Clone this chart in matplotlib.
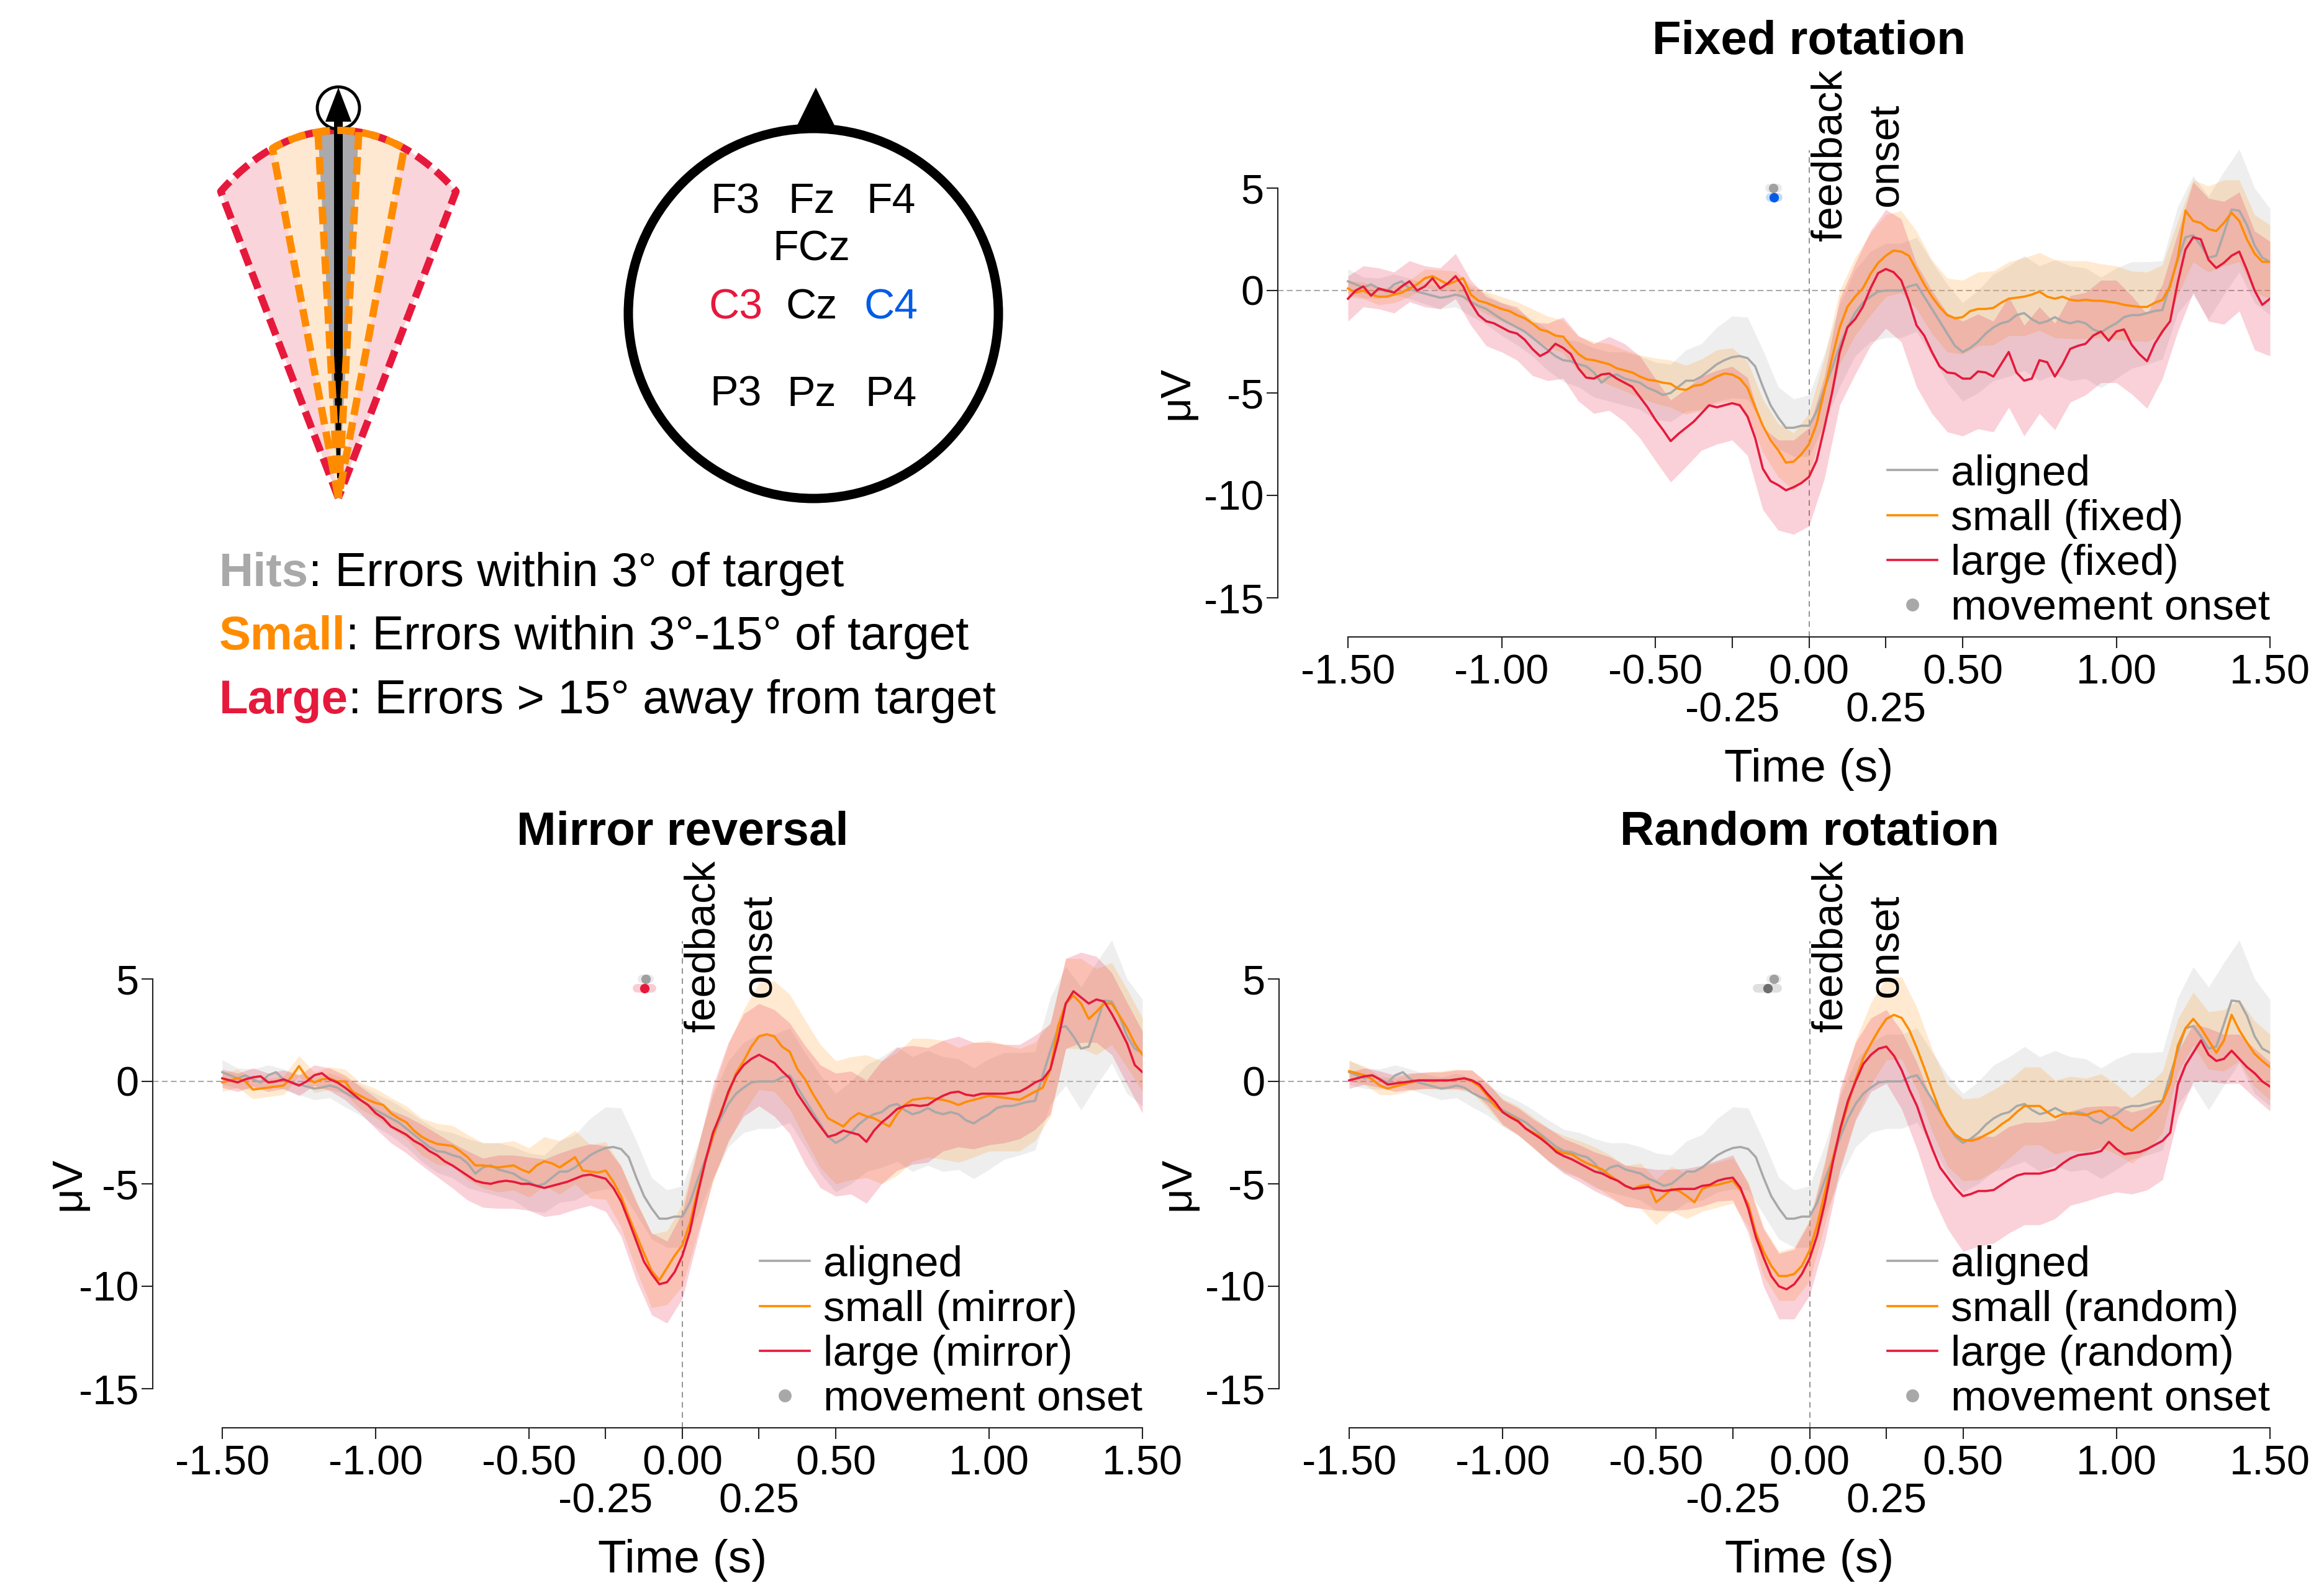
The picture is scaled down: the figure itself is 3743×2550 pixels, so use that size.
import numpy as np
import matplotlib
matplotlib.use("Agg")
import matplotlib.pyplot as plt
from matplotlib.lines import Line2D
from matplotlib.patches import Polygon, Circle

plt.rcParams['font.family'] = ['Liberation Sans', 'DejaVu Sans']

W, H, DPI = 3743, 2550, 100
fig = plt.figure(figsize=(W / DPI, H / DPI), dpi=DPI)

# ---------------------------------------------------------------- data
time = np.linspace(-1.5, 1.5, 121)      # 25 ms steps
time_ci = time[::2]                      # 50 ms steps for confidence bands

aligned = [
    0.45, 0.3, 0.15, 0.3, 0.1, -0.05, 0.3, 0.45, 0.1, -0.05,
    -0.15, -0.25, -0.35, -0.3, -0.2, -0.3, -0.55, -0.75, -0.9, -1.15,
    -1.4, -1.6, -1.8, -2.0, -2.3, -2.6, -2.9, -3.2, -3.4, -3.45,
    -3.6, -3.7, -4.0, -4.5, -4.2, -4.1, -4.3, -4.4, -4.5, -4.75,
    -4.9, -5.1, -5.0, -4.7, -4.4, -4.4, -4.2, -3.9, -3.6, -3.4,
    -3.25, -3.2, -3.3, -3.7, -4.7, -5.6, -6.2, -6.7, -6.7, -6.6,
    -6.6, -5.9, -4.8, -3.8, -2.7, -1.8, -1.1, -0.6, -0.3, -0.05,
    0.0, 0.0, 0.0, 0.2, 0.3, -0.3, -0.9, -1.5, -2.1, -2.7,
    -3.0, -2.8, -2.5, -2.1, -1.8, -1.6, -1.5, -1.2, -1.1, -1.4,
    -1.6, -1.5, -1.3, -1.5, -1.6, -1.5, -1.6, -1.9, -2.05, -1.8,
    -1.6, -1.3, -1.2, -1.2, -1.1, -1.0, -0.95, 0.3, 1.5, 2.6,
    2.7, 2.2, 1.6, 1.7, 2.8, 3.95, 3.9, 3.2, 2.2, 1.6,
    1.4]
aligned_ci = [
    0.6, 0.5, 0.5, 0.5, 0.5, 0.5, 0.55, 0.6, 0.7, 0.75,
    0.8, 0.85, 0.9, 1.0, 1.05, 1.1, 1.2, 1.2, 1.3, 1.3,
    1.4, 1.4, 1.5, 1.6, 1.8, 2.0, 2.0, 1.8, 1.5, 1.4,
    1.5, 1.7, 2.0, 2.1, 2.2, 2.3, 2.3, 2.3, 2.3, 2.4,
    2.4, 2.5, 2.6, 2.7, 2.8, 2.8, 2.8, 2.8, 2.7, 2.7,
    2.7, 2.6, 2.5, 2.4, 2.6, 2.9, 3.0, 3.0, 3.0, 2.8,
    2.6]

small_fixed = [
    0.1, -0.1, 0.0, -0.2, -0.3, -0.3, -0.2, -0.1, 0.1, 0.3,
    0.6, 0.7, 0.5, 0.3, 0.45, 0.6, -0.2, -0.5, -0.6, -0.75,
    -0.9, -1.0, -1.2, -1.35, -1.6, -1.9, -2.0, -2.2, -2.25, -2.7,
    -3.1, -3.35, -3.4, -3.5, -3.6, -3.8, -3.9, -4.0, -4.2, -4.35,
    -4.4, -4.5, -4.55, -4.8, -4.85, -4.65, -4.6, -4.4, -4.2, -4.05,
    -4.1, -4.3, -4.75, -5.7, -6.6, -7.3, -7.8, -8.4, -8.35, -8.0,
    -7.5, -6.5, -4.9, -3.3, -1.8, -0.8, -0.3, 0.1, 0.8, 1.35,
    1.7, 1.95, 1.9, 1.7, 1.0, 0.3, -0.3, -0.8, -1.2, -1.35,
    -1.3, -1.0, -0.9, -0.9, -0.85, -0.6, -0.4, -0.35, -0.3, -0.2,
    -0.05, -0.3, -0.4, -0.3, -0.45, -0.5, -0.45, -0.5, -0.5, -0.55,
    -0.6, -0.7, -0.75, -0.8, -0.8, -0.6, -0.45, 0.2, 1.6, 3.9,
    3.4, 3.3, 3.0, 2.9, 3.3, 3.8, 3.4, 2.5, 1.8, 1.4,
    1.4]
small_fixed_ci = [
    0.4, 0.4, 0.4, 0.4, 0.4, 0.45, 0.5, 0.5, 0.5, 0.55,
    0.6, 0.65, 0.7, 0.75, 0.8, 0.85, 0.9, 1.0, 1.0, 1.05,
    1.1, 1.15, 1.2, 1.25, 1.3, 1.3, 1.3, 1.3, 1.3, 1.4,
    1.5, 1.6, 1.8, 1.9, 2.0, 2.0, 2.0, 1.9, 1.8, 1.8,
    1.8, 1.8, 1.8, 1.8, 1.9, 1.9, 1.9, 1.9, 1.9, 1.8,
    1.8, 1.7, 1.7, 1.7, 1.8, 2.0, 2.1, 2.1, 2.0, 1.9,
    1.8]

large_fixed = [
    -0.4, 0.0, 0.2, -0.25, 0.1, 0.0, -0.1, 0.2, 0.45, 0.0,
    0.2, 0.6, 0.1, 0.35, 0.7, 0.2, -0.6, -1.2, -1.5, -1.6,
    -1.8, -2.0, -2.1, -2.4, -2.85, -3.2, -3.0, -2.6, -2.8, -3.1,
    -3.8, -4.25, -4.3, -4.1, -4.05, -4.3, -4.5, -4.7, -5.2, -5.7,
    -6.3, -6.8, -7.35, -7.0, -6.7, -6.4, -6.0, -5.6, -5.7, -5.6,
    -5.5, -5.6, -6.15, -7.2, -8.7, -9.3, -9.5, -9.75, -9.6, -9.4,
    -9.1, -8.3, -6.7, -5.0, -3.0, -1.8, -1.4, -0.8, 0.1, 0.85,
    1.05, 0.9, 0.5, -0.5, -1.7, -2.2, -3.0, -3.7, -4.0, -4.05,
    -4.3, -4.3, -3.95, -4.0, -4.2, -3.6, -3.0, -4.0, -4.4, -4.3,
    -3.4, -3.5, -4.2, -3.6, -2.85, -2.7, -2.6, -2.2, -2.0, -2.45,
    -2.0, -1.9, -2.65, -3.1, -3.45, -2.6, -2.0, -1.5, 0.4, 2.0,
    2.6, 2.5, 1.5, 1.1, 1.35, 1.7, 1.9, 1.0, 0.0, -0.7,
    -0.4]
large_fixed_ci = [
    1.1, 1.0, 1.0, 1.0, 1.0, 1.0, 1.0, 1.1, 1.1, 1.2,
    1.2, 1.3, 1.3, 1.4, 1.5, 1.6, 1.7, 1.8, 1.9, 2.0,
    2.0, 2.0, 1.9, 1.8, 1.8, 1.8, 1.9, 2.0, 2.2, 2.3,
    2.4, 2.5, 2.6, 2.7, 2.8, 2.9, 3.0, 3.0, 3.0, 2.9,
    2.8, 2.8, 2.7, 2.7, 2.7, 2.6, 2.6, 2.6, 2.5, 2.5,
    2.5, 2.4, 2.3, 2.3, 2.4, 2.7, 3.0, 3.0, 2.9, 2.9,
    2.8]

small_mirror = [
    -0.05, 0.05, 0.15, 0.0, -0.4, -0.35, -0.3, -0.25, -0.2, 0.2,
    0.75, 0.2, -0.05, 0.1, 0.15, 0.0, 0.0, -0.5, -0.7, -0.9,
    -1.05, -1.15, -1.55, -1.8, -2.0, -2.4, -2.7, -2.9, -3.05, -3.1,
    -3.15, -3.4, -3.7, -4.1, -4.1, -4.15, -4.2, -4.15, -4.1, -4.3,
    -4.45, -4.1, -3.9, -4.0, -4.2, -3.95, -3.7, -4.35, -4.4, -4.45,
    -4.35, -4.9, -5.6, -6.6, -7.5, -8.4, -9.25, -9.7, -9.1, -8.5,
    -8.0, -6.9, -5.3, -3.9, -2.7, -1.5, -0.6, 0.4, 1.0, 1.7,
    2.2, 2.3, 2.2, 1.7, 1.45, 0.6, 0.1, -0.6, -1.2, -1.8,
    -2.0, -2.2, -1.8, -1.55, -1.7, -1.8, -2.0, -2.2, -1.6, -1.15,
    -0.9, -0.85, -0.8, -0.85, -0.9, -1.0, -1.15, -1.0, -0.9, -0.8,
    -0.7, -0.75, -0.8, -0.85, -0.9, -0.7, -0.5, -0.3, 0.6, 2.7,
    3.8, 4.2, 3.8, 3.05, 3.4, 3.8, 3.8, 3.2, 2.6, 1.85,
    1.3]
small_mirror_ci = [
    0.45, 0.45, 0.45, 0.45, 0.45, 0.5, 0.5, 0.55, 0.6, 0.65,
    0.7, 0.75, 0.8, 0.9, 1.0, 1.0, 1.1, 1.1, 1.2, 1.2,
    1.2, 1.2, 1.3, 1.3, 1.3, 1.4, 1.5, 1.7, 1.8, 1.8,
    2.0, 2.1, 2.2, 2.4, 2.5, 2.6, 2.7, 2.8, 2.9, 3.0,
    3.0, 3.0, 3.0, 3.0, 3.0, 3.0, 2.9, 2.9, 2.8, 2.8,
    2.7, 2.6, 2.5, 2.4, 2.3, 2.2, 2.2, 2.1, 2.0, 1.9,
    1.8]

large_mirror = [
    0.15, 0.05, -0.05, 0.1, 0.2, 0.25, -0.05, 0.0, 0.1, -0.05,
    -0.2, 0.0, 0.3, 0.4, 0.1, -0.05, -0.3, -0.6, -0.9, -1.15,
    -1.55, -1.8, -2.2, -2.4, -2.6, -2.9, -3.1, -3.4, -3.6, -3.9,
    -4.1, -4.35, -4.6, -4.85, -4.95, -5.0, -4.9, -4.85, -4.9, -5.0,
    -5.0, -5.1, -5.2, -5.1, -5.0, -4.9, -4.75, -4.6, -4.55, -4.65,
    -4.75, -5.2, -5.85, -6.8, -7.8, -8.8, -9.4, -9.9, -9.8, -9.3,
    -8.5, -7.3, -5.5, -3.9, -2.5, -1.6, -0.5, 0.3, 0.8, 1.1,
    1.3, 1.1, 0.9, 0.5, 0.15, -0.6, -1.15, -1.7, -2.2, -2.7,
    -2.6, -2.4, -2.5, -2.6, -2.95, -2.4, -2.0, -1.7, -1.35, -1.2,
    -1.15, -1.2, -1.15, -0.9, -0.7, -0.55, -0.5, -0.65, -0.7, -0.6,
    -0.6, -0.6, -0.6, -0.55, -0.5, -0.3, -0.05, 0.1, 0.6, 2.05,
    3.8, 4.4, 4.1, 3.8, 4.0, 3.9, 3.3, 2.6, 1.85, 0.8,
    0.45]
large_mirror_ci = [
    0.45, 0.45, 0.45, 0.45, 0.45, 0.5, 0.5, 0.55, 0.6, 0.65,
    0.75, 0.8, 0.9, 1.0, 1.05, 1.1, 1.2, 1.2, 1.3, 1.3,
    1.3, 1.4, 1.5, 1.5, 1.5, 1.6, 1.7, 1.9, 2.0, 2.0,
    2.1, 2.2, 2.3, 2.4, 2.5, 2.5, 2.6, 2.7, 2.9, 3.0,
    3.0, 3.0, 3.0, 3.0, 3.0, 2.9, 2.8, 2.7, 2.7, 2.6,
    2.5, 2.4, 2.3, 2.3, 2.2, 2.2, 2.2, 2.1, 2.0, 2.0,
    2.0]

small_random = [
    0.5, 0.4, 0.3, 0.1, -0.2, -0.35, -0.25, -0.15, -0.05, 0.05,
    0.05, 0.0, 0.05, 0.05, 0.1, 0.15, 0.0, -0.25, -0.7, -1.2,
    -1.5, -1.7, -1.9, -2.3, -2.5, -2.7, -3.1, -3.35, -3.5, -3.55,
    -3.8, -4.0, -4.15, -4.3, -4.6, -4.85, -5.1, -5.25, -5.1, -5.05,
    -5.9, -5.6, -5.25, -5.35, -5.6, -5.9, -5.25, -5.1, -5.05, -4.95,
    -4.85, -5.3, -6.0, -7.4, -8.3, -9.0, -9.5, -9.5, -9.4, -9.0,
    -8.25, -7.0, -5.4, -3.8, -2.4, -1.1, 0.1, 1.15, 1.85, 2.5,
    3.05, 3.25, 3.1, 2.5, 1.6, 0.6, -0.45, -1.45, -2.15, -2.6,
    -2.85, -2.9, -2.8, -2.6, -2.4, -2.1, -1.85, -1.5, -1.2, -1.2,
    -1.2, -1.5, -1.75, -1.6, -1.55, -1.6, -1.65, -1.5, -1.43, -1.7,
    -1.85, -2.2, -2.4, -2.1, -1.8, -1.45, -1.0, -0.1, 1.75, 2.6,
    3.05, 2.6, 2.0, 1.4, 2.0, 3.25, 2.5, 1.9, 1.35, 1.0,
    0.7]
small_random_ci = [
    0.5, 0.45, 0.45, 0.4, 0.4, 0.4, 0.45, 0.5, 0.55, 0.6,
    0.65, 0.7, 0.75, 0.8, 0.85, 0.9, 0.95, 1.0, 1.0, 1.1,
    1.1, 1.1, 1.1, 1.1, 1.1, 1.1, 1.1, 1.2, 1.2, 1.3,
    1.5, 1.6, 1.8, 1.9, 2.0, 2.0, 2.0, 2.0, 2.0, 2.0,
    2.0, 2.0, 2.0, 1.9, 1.9, 1.9, 1.8, 1.8, 1.8, 1.8,
    1.7, 1.6, 1.6, 1.5, 1.3, 1.3, 1.4, 1.5, 1.5, 1.6,
    1.6]

large_random = [
    0.05, 0.15, 0.25, 0.3, 0.1, -0.15, -0.1, -0.05, 0.0, 0.05,
    0.05, 0.05, 0.05, 0.05, 0.1, 0.15, 0.05, -0.15, -0.6, -1.0,
    -1.5, -1.75, -1.95, -2.3, -2.55, -2.8, -3.1, -3.45, -3.65, -3.8,
    -4.0, -4.2, -4.4, -4.5, -4.7, -4.85, -5.1, -5.25, -5.2, -5.15,
    -5.3, -5.35, -5.3, -5.25, -5.25, -5.25, -5.1, -5.05, -4.85, -4.75,
    -4.7, -5.2, -6.2, -7.6, -8.6, -9.5, -10.0, -10.15, -9.9, -9.4,
    -8.65, -7.5, -5.9, -4.0, -2.3, -0.95, 0.0, 0.85, 1.3, 1.6,
    1.7, 1.25, 0.55, -0.4, -1.2, -2.3, -3.3, -4.2, -4.7, -5.2,
    -5.6, -5.5, -5.35, -5.35, -5.3, -5.05, -4.8, -4.6, -4.5, -4.5,
    -4.5, -4.4, -4.3, -4.0, -3.75, -3.6, -3.55, -3.5, -3.4, -2.95,
    -3.3, -3.55, -3.5, -3.45, -3.3, -3.1, -2.9, -2.5, -0.15, 0.8,
    1.4, 2.0, 1.3, 1.0, 1.1, 1.5, 1.1, 0.7, 0.4, 0.0,
    -0.25]
large_random_ci = [
    0.4, 0.4, 0.4, 0.4, 0.4, 0.4, 0.4, 0.45, 0.5, 0.55,
    0.6, 0.65, 0.7, 0.8, 0.85, 0.9, 0.95, 1.0, 1.0, 1.0,
    1.0, 1.0, 1.0, 1.0, 1.0, 1.1, 1.2, 1.4, 1.6, 1.7,
    1.8, 1.9, 2.0, 1.9, 1.8, 1.8, 1.9, 2.1, 2.3, 2.5,
    2.7, 2.7, 2.6, 2.6, 2.5, 2.5, 2.4, 2.3, 2.3, 2.2,
    2.1, 2.0, 2.0, 1.9, 1.6, 1.4, 1.3, 1.2, 1.2, 1.2,
    1.2]

# movement onset (s): [aligned, perturbed] mean and error, per panel
onset_fixed = [-0.116, -0.114]
onset_fixed_err = [0.013, 0.013]
onset_mirror = [-0.119, -0.124]
onset_mirror_err = [0.012, 0.024]
onset_random = [-0.116, -0.137]
onset_random_err = [0.010, 0.033]

xtick_vals = [-1.5, -1.0, -0.5, -0.25, 0.0, 0.25, 0.5, 1.0, 1.5]
xtick_labels = ['-1.50', '-1.00', '-0.50', '-0.25', '0.00', '0.25', '0.50', '1.00', '1.50']
ytick_vals = [5, 0, -5, -10, -15]
ytick_labels = ['5', '0', '-5', '-10', '-15']

electrodes = ['F3', 'Fz', 'F4', 'FCz', 'C3', 'Cz', 'C4', 'P3', 'Pz', 'P4']

C_GRAY = '#A8A8A8'
C_OR = '#FF8C00'
C_RED = '#E6193C'
C_BLUE = '#005BE6'
C_DGRAY = '#6E6E6E'

# ---------------------------------------------------------------- illustration (pixel coordinates)
ov = fig.add_axes([0, 0, 1, 1])
ov.set_xlim(0, W)
ov.set_ylim(H, 0)
ov.axis('off')

AX, AY, R, S = 545, 802, 592, 0.58


def fan_pt(deg, r=R):
    a = np.deg2rad(deg)
    return (AX + S * r * np.sin(a), AY - r * np.cos(a))


def wedge(deg):
    return [(AX, AY)] + [fan_pt(a) for a in np.linspace(-deg, deg, 90)]


ov.add_patch(Polygon(wedge(33.5), closed=True, fc='#FAD4DB', ec='none', zorder=1))
ov.add_patch(Polygon(wedge(18), closed=True, fc='#FFE8D2', ec='none', zorder=2))
ov.add_patch(Polygon(wedge(5.5), closed=True, fc='#A9A9AE', ec='none', zorder=3))

DASH = (2.4, 1.0)
red_path = np.array(wedge(33.5) + [(AX, AY)])
ov.plot(red_path[:, 0], red_path[:, 1], color=C_RED, lw=8.5, dashes=DASH, zorder=4)

ov.add_patch(Circle((AX, 174), 34, fc='white', ec='black', lw=3.5, zorder=5))
arrow = [(AX, 141), (AX + 21, 196), (AX + 7, 196), (AX + 7, 600), (AX + 2, 770),
         (AX - 2, 770), (AX - 7, 600), (AX - 7, 196), (AX - 21, 196)]
ov.add_patch(Polygon(arrow, closed=True, fc='black', ec='none', zorder=6))

or_path = np.array(wedge(18) + [(AX, AY)])
ov.plot(or_path[:, 0], or_path[:, 1], color=C_OR, lw=8.5, dashes=DASH, zorder=7)
for d in (-5.5, 5.5):
    p = fan_pt(d)
    ov.plot([AX, p[0]], [AY, p[1]], color=C_OR, lw=8.5, dashes=DASH, zorder=7)

# head
ov.add_patch(Circle((1310, 505), 298, fill=False, ec='black', lw=10.8, zorder=2))
ov.add_patch(Polygon([(1278, 214), (1314, 141), (1350, 214)], closed=True, fc='black', ec='none'))
el_pos = [(1184, 325), (1307, 325), (1435, 325), (1307, 402), (1185, 495),
          (1307, 495), (1435, 495), (1185, 636), (1307, 636), (1435, 636)]
for name, (ex, ey) in zip(electrodes, el_pos):
    col = C_RED if name == 'C3' else (C_BLUE if name == 'C4' else 'black')
    ov.text(ex, ey, name, fontsize=49, color=col, ha='center', va='center')

crit = [('Hits', '#A9A9A9', ': Errors within 3° of target', 944),
        ('Small', C_OR, ': Errors within 3°-15° of target', 1046),
        ('Large', C_RED, ': Errors > 15° away from target', 1149)]
for word, col, rest, yb in crit:
    t1 = ov.text(353, yb, word, fontsize=55, fontweight='bold', color=col,
                 ha='left', va='baseline')
    ov.annotate(rest, xy=(1, 0), xycoords=t1, fontsize=55, color='black',
                ha='left', va='bottom')


# ---------------------------------------------------------------- panels
def panel(spine_x, x_lo, x_hi, y5, y_bottom, title, series, onset, onset_err,
          onset_col, label_tag, ylab_off):
    sx = (x_hi - x_lo) / 3.0
    sy = 33.0
    xmin = -1.5 - (x_lo - spine_x) / sx
    y_m15 = y5 + 20 * sy
    ymin = -15 - (y_bottom - y_m15) / sy
    ymax = 8.5
    top = y5 - (ymax - 5) * sy
    ax = fig.add_axes([spine_x / W, 1 - y_bottom / H, (x_hi - spine_x) / W,
                       (y_bottom - top) / H])
    ax.patch.set_visible(False)

    ax.axhline(0, color='#AAAAAA', lw=1.5, ls=(0, (4.5, 2.5)), zorder=1)
    ax.vlines(0, ymin, 6.85, color='#888888', lw=1.3, linestyles=[(0, (5, 4))], zorder=1)

    band_cols = ['#C8C8C8', C_OR, C_RED]
    band_alpha = [0.3, 0.18, 0.2]
    for (mean, ci), bc, ba in zip(series, band_cols, band_alpha):
        m = np.asarray(mean)[::2]
        c = np.asarray(ci)
        ax.fill_between(time_ci, m - c, m + c, color=bc, alpha=ba, lw=0, zorder=2)
    lines = []
    for (mean, ci), lc in zip(series, [C_GRAY, C_OR, C_RED]):
        ln, = ax.plot(time, mean, color=lc, lw=2.6, zorder=3)
        lines.append(ln)

    # movement onset markers
    for mo, me, col, yy in zip(onset, onset_err, ['#A0A0A0', onset_col], [5.0, 4.55]):
        ax.plot([mo - me, mo + me], [yy, yy], color=col, lw=10, alpha=0.22,
                solid_capstyle='round', zorder=4)
        ax.plot([mo], [yy], 'o', color=col, ms=11, mec='none', zorder=5)

    for s in ['top', 'right']:
        ax.spines[s].set_visible(False)
    ax.spines['left'].set_bounds(-15, 5)
    ax.spines['bottom'].set_bounds(-1.5, 1.5)
    for s in ['left', 'bottom']:
        ax.spines[s].set_linewidth(1.5)
        ax.spines[s].set_color('#222222')
    ax.tick_params(direction='out', length=13, width=1.5, color='#222222',
                   labelsize=48, pad=6.5)
    ax.set_yticks(ytick_vals)
    ax.set_yticklabels(ytick_labels)
    ax.set_xticks(xtick_vals)
    ax.set_xticklabels(xtick_labels)
    for tk, v in zip(ax.xaxis.get_major_ticks(), xtick_vals):
        if abs(v) == 0.25:
            tk.set_pad(51)
    ax.tick_params(axis='y', pad=3)

    ax.text(0, 5 + 235 / sy, title, fontsize=55, fontweight='bold', ha='center', va='center')
    ax.text(0, 5 - 936 / sy, 'Time (s)', fontsize=54, ha='center', va='center')
    ax.text(-1.5 - (x_lo - spine_x + ylab_off) / sx, -5, 'μV', fontsize=50,
            rotation=90, ha='center', va='center')
    ax.text(0.068, 6.6, 'feedback', fontsize=49, rotation=90, ha='center', va='center')
    ax.text(0.252, 6.6, 'onset', fontsize=49, rotation=90, ha='center', va='center')

    onset_handle = Line2D([], [], ls='none', marker='o', color='#A8A8A8', ms=15, mec='none')
    ax.legend(lines + [onset_handle],
              ['aligned', 'small (%s)' % label_tag, 'large (%s)' % label_tag, 'movement onset'],
              loc='lower right', bbox_to_anchor=(1.5, -16.5), bbox_transform=ax.transData,
              frameon=False, fontsize=50, handlelength=1.15, handletextpad=0.32,
              labelspacing=0.12, borderpad=0, borderaxespad=0)

    ax.set_xlim(xmin, 1.5)
    ax.set_ylim(ymin, ymax)
    return ax


panel(2058, 2171, 3656, 303, 1026, 'Fixed rotation',
      [(aligned, aligned_ci), (small_fixed, small_fixed_ci), (large_fixed, large_fixed_ci)],
      onset_fixed, onset_fixed_err, C_BLUE, 'fixed', 163)
panel(246, 358, 1840, 1577, 2300, 'Mirror reversal',
      [(aligned, aligned_ci), (small_mirror, small_mirror_ci), (large_mirror, large_mirror_ci)],
      onset_mirror, onset_mirror_err, C_RED, 'mirror', 136)
panel(2060, 2173, 3656, 1577, 2300, 'Random rotation',
      [(aligned, aligned_ci), (small_random, small_random_ci), (large_random, large_random_ci)],
      onset_random, onset_random_err, C_DGRAY, 'random', 163)

fig.savefig('out.png', dpi=DPI)
